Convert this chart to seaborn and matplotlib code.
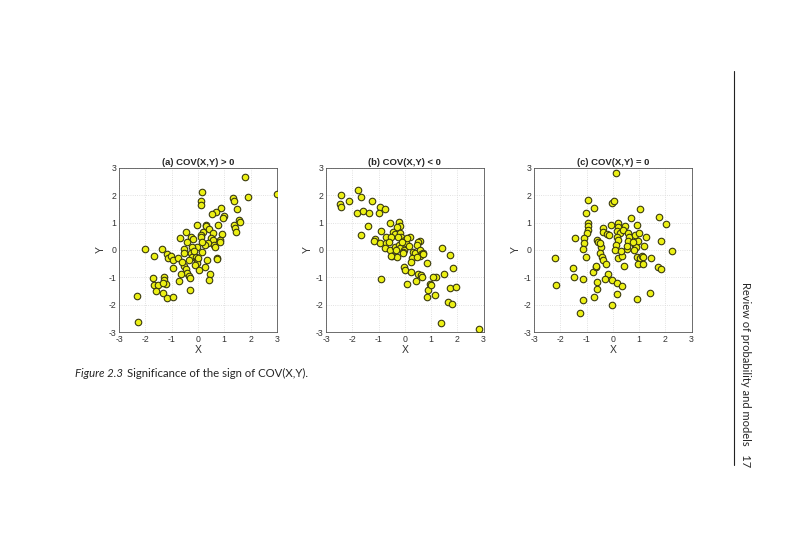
import matplotlib
matplotlib.use('Agg')
import matplotlib.pyplot as plt
import seaborn as sns
import pandas as pd

# ── Data ────────────────────────────────────────────────────────────────────
xa = [3.0, 1.8, 1.9, 0.14, 0.1, 0.1, 1.32, 1.37, 1.47, 1.57, 1.6, 1.38, 1.42, 1.44,
      0.88, 0.68, 0.54, 1.0, 0.95, 0.77, 0.29, 0.3, -0.05, 0.42, 0.2, -0.45, -0.25,
      -0.2, 0.1, 0.56, 0.9, 0.1, -0.7, 0.49, 0.58, 0.82, 0.83, 0.38, 0.28, 0.6, 0.65,
      -0.42, -0.05, -0.24, -0.52, -0.55, 0.17, -2.0, -1.38, -1.67, -1.17, -1.16, -1.02,
      -0.96, -0.75, -0.28, -0.24, -0.06, -0.04, -0.35, -0.03, -0.1, 0.33, 0.74, 0.72,
      0.27, 0.05, -0.95, -0.54, -0.46, -0.41, -0.66, 0.46, 0.41, -0.33, -0.31, -0.73,
      -1.72, -1.3, -1.28, -1.2, -1.69, -1.53, -1.34, -1.6, -1.33, -1.19, -0.95, -0.31,
      -2.32, -2.27, -0.15, 0.0, -0.6, 0.15]
ya = [2.05, 2.65, 1.92, 2.12, 1.78, 1.65, 1.9, 1.8, 1.5, 1.1, 1.03, 0.92, 0.8, 0.64,
      1.53, 1.4, 1.3, 1.24, 1.16, 0.92, 0.92, 0.86, 0.92, 0.77, 0.67, 0.66, 0.49,
      0.4, 0.55, 0.61, 0.57, 0.47, 0.43, 0.43, 0.37, 0.37, 0.3, 0.25, 0.18, 0.18, 0.12,
      0.28, 0.12, 0.12, 0.02, -0.1, -0.09, 0.02, 0.02, -0.22, -0.16, -0.3, -0.22,
      -0.37, -0.3, -0.12, -0.27, -0.24, -0.37, -0.37, -0.49, -0.55, -0.37, -0.3, -0.34,
      -0.61, -0.73, -0.65, -0.59, -0.7, -0.83, -0.86, -0.88, -1.08, -0.95, -1.02, -1.14,
      -1.02, -0.98, -1.1, -1.25, -1.29, -1.29, -1.19, -1.5, -1.57, -1.77, -1.71, -1.47,
      -1.69, -2.63, -0.05, -0.3, -0.45, 0.3]

xb = [-2.43, -2.48, -2.43, -2.11, -1.77, -1.67, -1.81, -1.59, -1.37, -1.23, -0.95,
      -0.76, -0.99, -1.67, -1.39, -0.91, -1.14, -1.16, -0.95, -0.58, -0.23, -0.19,
      -0.7, -0.44, -0.38, -0.19, -0.13, -0.51, -0.25, 0.0, 0.06, 0.2, -0.7, -0.76,
      -0.57, -0.48, -0.3, -0.38, -0.23, -0.2, -0.02, -0.05, -0.06, -0.53, -0.34,
      0.57, 0.51, 0.48, 0.32, 0.38, 0.57, 0.63, 0.69, 0.58, 0.28, 0.23, 1.42, 1.73,
      1.84, 0.86, -0.03, 0.0, 0.25, 1.2, 1.49, 1.08, 0.51, 0.63, 0.66, -0.89, 0.1,
      0.42, 0.95, 0.89, 1.0, 0.86, 1.14, 1.71, 1.94, 1.65, 1.78, 1.37, 2.81, 0.1,
      -0.1, 0.45, 0.7, -0.3, 0.15, -0.6]
yb = [2.0, 1.68, 1.57, 1.78, 2.18, 1.93, 1.35, 1.44, 1.35, 1.78, 1.57, 1.49, 1.35,
      0.54, 0.86, 0.7, 0.39, 0.31, 0.27, 1.0, 1.02, 0.86, 0.49, 0.67, 0.59, 0.61,
      0.47, 0.49, 0.47, 0.37, 0.27, 0.47, 0.25, 0.06, 0.0, -0.22, -0.27, 0.1, 0.18,
      0.06, 0.0, -0.06, -0.12, -0.22, 0.0, 0.34, 0.28, 0.18, -0.06, -0.12, 0.0, -0.15,
      -0.12, -0.22, -0.31, -0.43, 0.06, -0.2, -0.67, -0.49, -0.64, -0.73, -0.8, -0.98,
      -0.89, -0.98, -0.86, -0.93, -1.0, -1.06, -1.24, -1.14, -1.26, -1.47, -1.28,
      -1.71, -1.65, -1.38, -1.35, -1.9, -1.96, -2.67, -2.9, 0.45, 0.3, -0.25, -0.15,
      0.85, 0.15, 0.3]

xc = [0.12, -0.96, -0.71, -0.03, 0.06, -1.02, -0.96, -0.96, -0.96, -0.97, -1.09,
      -1.1, -1.44, -1.15, -1.02, -2.19, -2.17, -1.53, -1.46, -1.12, -1.15, -1.26,
      -0.73, -0.6, -0.59, -0.77, -0.65, -0.63, -0.59, -0.55, -0.46, -0.36, -0.36,
      -0.22, -0.08, -0.49, -0.42, -0.39, -0.26, -0.2, -0.3, -0.02, 0.17, 0.34, 0.15,
      -0.04, 0.2, 0.2, 0.17, 0.27, 0.17, 0.2, 0.12, 0.46, 0.4, 0.08, 0.2, 0.34, 0.44,
      0.59, 0.62, 0.59, 0.53, 0.55, 0.7, 0.85, 0.91, 1.0, 1.04, 1.26, 0.85, 0.88,
      0.97, 0.81, 0.91, 1.04, 1.1, 0.97, 1.14, 1.16, 1.18, 0.91, 1.46, 1.42, 1.77,
      2.01, 1.82, 2.24, 1.73, 1.84, -0.5, -0.15, 0.3, 0.75]
yc = [2.83, 1.84, 1.55, 1.71, 1.78, 1.35, 1.0, 0.86, 0.73, 0.61, 0.43, 0.24, 0.43,
      0.02, -0.24, -0.31, -1.29, -0.67, -0.98, -1.05, -1.82, -2.29, -1.71, -1.44,
      -1.18, -0.8, -0.64, -0.58, 0.37, 0.29, 0.12, 0.8, 0.67, 0.6, 0.92, -0.12,
      -0.24, -0.37, -0.51, -0.86, -1.06, -1.1, -1.19, -1.31, -1.62, -2.0, 1.0, 0.83,
      0.7, 0.61, 0.47, 0.37, 0.18, 0.88, 0.73, 0.0, -0.31, -0.22, -0.58, 0.61, 0.47,
      0.31, 0.02, 0.15, 1.16, 0.55, 0.9, 0.61, 1.49, 0.47, 0.18, 0.12, 0.31, 0.0,
      -0.24, -0.31, -0.22, -0.52, -0.27, -0.52, 0.15, -1.8, -0.31, -1.59, 1.22, 0.95,
      0.34, -0.04, -0.61, -0.7, 0.25, 0.55, -0.05, 0.3]

titles = ['(a) COV(X,Y) > 0', '(b) COV(X,Y) < 0', '(c) COV(X,Y) = 0']
panels = [(xa, ya), (xb, yb), (xc, yc)]
ticks = [-3, -2, -1, 0, 1, 2, 3]

sns.set_style('white')
plt.rcParams['font.family'] = ['Liberation Sans', 'DejaVu Sans']
plt.rcParams['axes.unicode_minus'] = False

fig = plt.figure(figsize=(8, 5.33), dpi=100)
lefts = [0.149, 0.4075, 0.6675]

for left, (xs, ys), title in zip(lefts, panels, titles):
    ax = fig.add_axes([left, 0.377, 0.197, 0.308])
    df = pd.DataFrame({'X': xs, 'Y': ys})
    sns.scatterplot(data=df, x='X', y='Y', ax=ax, s=22, color='#ecf014',
                    edgecolor='#3a3a10', linewidth=0.8, zorder=3)
    ax.set_xlim(-3, 3)
    ax.set_ylim(-3, 3)
    ax.set_xticks(ticks)
    ax.set_yticks(ticks)
    ax.grid(True, color='#d8d8d8', linestyle=':', linewidth=0.6)
    ax.tick_params(labelsize=6.3, length=2, direction='in', pad=2, colors='#333333')
    for sp in ax.spines.values():
        sp.set_color('#555555')
        sp.set_linewidth(0.6)
    ax.set_xlabel('X', fontsize=7.5, labelpad=1, color='#333333')
    ax.set_ylabel('Y', fontsize=7.5, labelpad=2, color='#333333')
    ax.set_title(title, fontsize=6.8, fontweight='bold', pad=2)

# caption
fig.text(0.094, 0.300, 'Figure 2.3', fontsize=8.2, style='italic',
         family=['Lato', 'DejaVu Sans'], va='center')
fig.text(0.159, 0.300, 'Significance of the sign of COV(X,Y).', fontsize=8.2,
         family=['Lato', 'DejaVu Sans'], va='center')

# running header on the right margin
fig.add_artist(plt.Line2D([0.9175, 0.9175], [0.128, 0.867], color='#222222',
                          linewidth=0.8))
fig.text(0.932, 0.298, 'Review of probability and models   17', rotation=-90,
         fontsize=8, family=['Lato', 'DejaVu Sans'], ha='center', va='center')

fig.savefig('out.png', dpi=100, facecolor='white')
